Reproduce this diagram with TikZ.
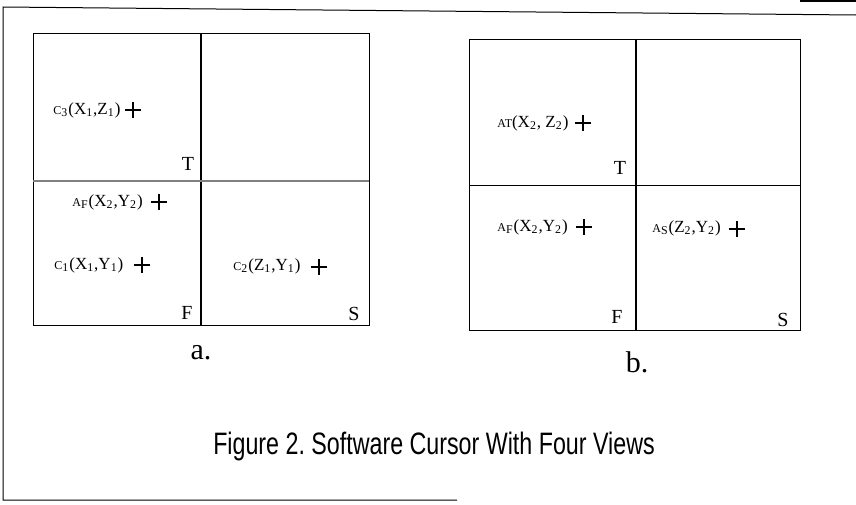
\documentclass[tikz,border=0pt]{standalone}
\usepackage{fontspec}
\setmainfont{Liberation Serif}
\newfontfamily\capfont{Liberation Sans}
\usepackage{tikz}
\newcommand\lblsmall[1]{{\fontsize{6}{6}\selectfont #1}}

\begin{document}
\begin{tikzpicture}[x=0.5pt,y=-0.5pt,
    box/.style={line width=0.5pt},
    lbl/.style={anchor=west,inner sep=0pt,font=\fontsize{8.5}{9}\selectfont},
    view/.style={inner sep=0pt,font=\fontsize{10}{10}\selectfont},
    sub/.style={inner sep=0pt,font=\fontsize{15}{15}\selectfont}]
  \useasboundingbox (0,0) rectangle (856,504);
  % frame round the figure
  \draw[line width=0.5pt] (856,15) -- (3,7) -- (3,500) -- (457,500);
  \draw[line width=1pt] (800,0.5) -- (856,0.5);

  % panel a
  \draw[box] (33,33) rectangle (369,325);
  \draw[line width=0.7pt] (201,33) -- (201,325);
  \draw[line width=1.1pt,gray] (33,181) -- (369,181);
  \node[lbl] (c3) at (53,110) {\lblsmall{C}\textsubscript{3}(X\textsubscript{1},Z\textsubscript{1})};
  \node[lbl] (afa) at (72,202) {\lblsmall{A}\textsubscript{F}(X\textsubscript{2},Y\textsubscript{2})};
  \node[lbl] (c1) at (54,265) {\lblsmall{C}\textsubscript{1}(X\textsubscript{1},Y\textsubscript{1})};
  \node[lbl] (c2) at (233,266) {\lblsmall{C}\textsubscript{2}(Z\textsubscript{1},Y\textsubscript{1})};
  \node[view] (ta) at (188,164) {T};
  \node[view] (fa) at (187,313) {F};
  \node[view] (sa) at (354,314) {S};
  \node[sub] (a) at (201,353) {a.};

  % panel b
  \draw[box] (469,39) rectangle (800,330);
  \draw[line width=0.7pt] (636,39) -- (636,330);
  \draw[box] (469,185) -- (800,185);
  \node[lbl] (at) at (497,123) {\lblsmall{AT}(X\textsubscript{2}, Z\textsubscript{2})};
  \node[lbl] (afb) at (497,227) {\lblsmall{A}\textsubscript{F}(X\textsubscript{2},Y\textsubscript{2})};
  \node[lbl] (as) at (652,228) {\lblsmall{A}\textsubscript{S}(Z\textsubscript{2},Y\textsubscript{2})};
  \node[view] (tb) at (620,168) {T};
  \node[view] (fb) at (617,317) {F};
  \node[view] (sb) at (783,320) {S};
  \node[sub] (b) at (637,362) {b.};

  % cursors
  \foreach \cx/\cy in {133/110,159/202,142/265,319/267,583/123,584/227,737/229}{
    \draw[line width=0.6pt] (\cx-8,\cy) -- (\cx+8,\cy) (\cx,\cy-8) -- (\cx,\cy+8);
  }

  \node[xscale=0.75,font=\capfont\fontsize{15.5}{16}\selectfont\frenchspacing] (caption) at (434,446)
    {Figure 2. Software Cursor With Four Views};
\end{tikzpicture}
\end{document}
